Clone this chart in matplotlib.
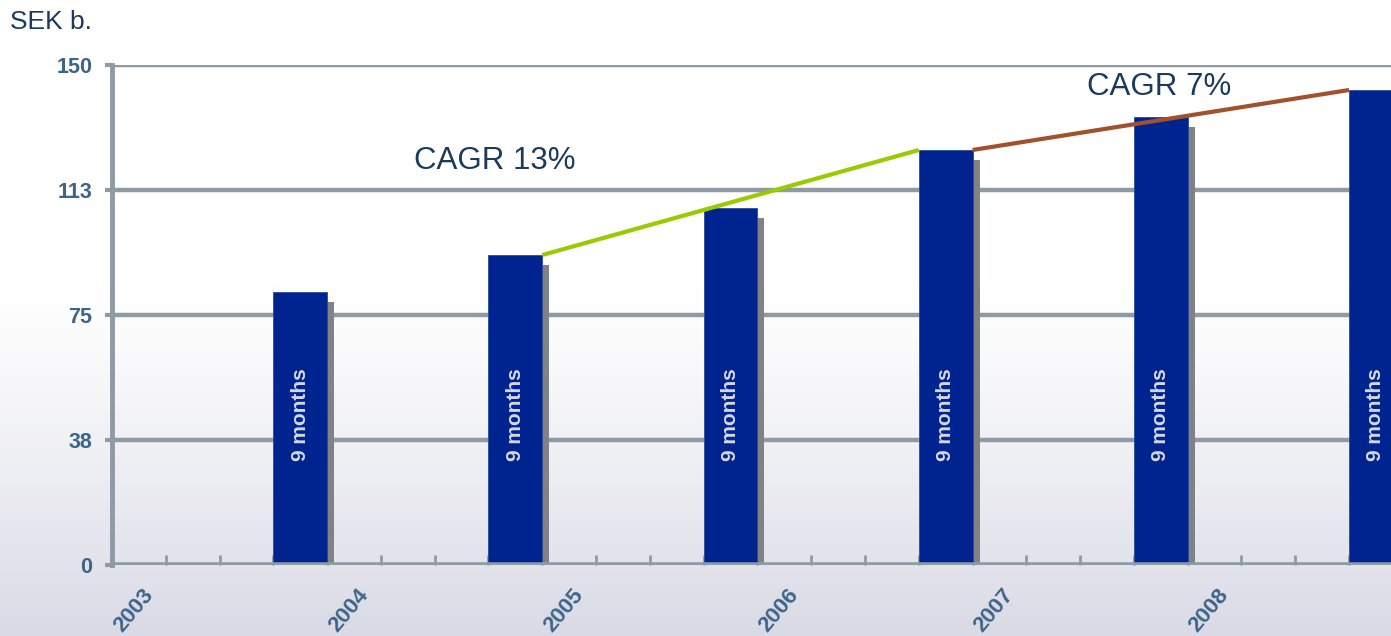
import numpy as np
import matplotlib
matplotlib.use('Agg')
import matplotlib.pyplot as plt
from matplotlib.patches import Rectangle

# quarterly category axis, bars only on the 9-month slots
years = ['2003', '2004', '2005', '2006', '2007', '2008']
year_slots = [0, 4, 8, 12, 16, 20]
bar_slots = [3, 7, 11, 15, 19, 23]
bar_values = [82, 93, 107, 124.5, 134.5, 142.5]
bar_text = '9 months'
y_ticks = [0, 37.5, 75, 112.5, 150]
y_tick_labels = ['0', '38', '75', '113', '150']
cagr_labels = ['CAGR 13%', 'CAGR 7%']
cagr_spans = [(1, 3), (3, 5)]  # bar index from / to

BAR = '#00248f'
GRID = '#8e9ba4'
TICK_TXT = '#3d6589'
NAVY_TXT = '#1b3a5c'

W, H = 1391, 636
fig = plt.figure(figsize=(W / 100, H / 100), dpi=100)

# soft white -> lavender background over the whole figure
bg = fig.add_axes([0, 0, 1, 1], zorder=-10)
rows = np.linspace(0, 1, H)
t = np.clip((rows - 0.45) / 0.55, 0, 1) ** 1.2
top = np.array([1.0, 1.0, 1.0])
bottom = np.array([0xd9, 0xda, 0xe5]) / 255
grad = top[None, :] * (1 - t[:, None]) + bottom[None, :] * t[:, None]
bg.imshow(grad[:, None, :], aspect='auto', extent=[0, 1, 0, 1], origin='upper')
bg.axis('off')

ax = fig.add_axes([112 / W, 71 / H, (W - 112) / W, 500 / H])
ax.set_facecolor('none')
ax.set_xlim(-0.5, 23.28)
ax.set_ylim(0, 150)

# gridlines
for y in y_ticks[1:]:
    ax.axhline(y, color=GRID, lw=3.2, zorder=1)
ax.axhline(0, color=GRID, lw=4, zorder=4)

# bars with a grey drop shadow on the right
for s, v in zip(bar_slots, bar_values):
    ax.add_patch(Rectangle((s + 0.5 - 0.02, 0), 0.15, v - 3, color='#808285', zorder=2, lw=0))
    ax.bar(s, v, width=1.0, color=BAR, edgecolor='#2a4a9a', lw=0.6, zorder=3)
    ax.text(s, 45, bar_text, rotation=90, ha='center', va='center', color='#d4d8e4',
            fontsize=15, fontweight='bold', family='Liberation Sans', zorder=5)

# CAGR trend lines between bar tops
line_colors = ['#99cc00', '#a0522d']
for (i, j), c in zip(cagr_spans, line_colors):
    ax.plot([bar_slots[i] + 0.5, bar_slots[j] - 0.5], [bar_values[i], bar_values[j]],
            color=c, lw=3, zorder=6, solid_capstyle='butt')

ax.text(6.61, 121.2, cagr_labels[0], ha='center', va='center', fontsize=22.5,
        color=NAVY_TXT, family='Liberation Sans')
ax.text(18.96, 143.4, cagr_labels[1], ha='center', va='center', fontsize=22.5,
        color=NAVY_TXT, family='Liberation Sans')

# axes styling
for side in ['top', 'right', 'bottom']:
    ax.spines[side].set_visible(False)
ax.spines['left'].set_color(GRID)
ax.spines['left'].set_linewidth(3.5)
ax.spines['left'].set_zorder(4)

ax.set_yticks(y_ticks)
ax.set_yticklabels(y_tick_labels, fontsize=15.5, fontweight='bold', color=TICK_TXT,
                   family='Liberation Sans')
ax.tick_params(axis='y', direction='out', length=5, width=3, color=GRID, pad=9)

ax.set_xticks(np.arange(-0.5, 23.5, 1.0))
ax.set_xticklabels([])
ax.tick_params(axis='x', direction='in', length=7, width=2, color=GRID)

for s, yr in zip(year_slots, years):
    ax.text(s + 0.2, -8.0, yr, rotation=50, ha='right', va='center', rotation_mode='anchor',
            fontsize=16, fontweight='bold', color=TICK_TXT, family='Liberation Sans',
            clip_on=False)

fig.text(10 / W, 1 - 22 / H, 'SEK b.', ha='left', va='center', fontsize=19,
         color=NAVY_TXT, family='Liberation Sans')

fig.savefig('out.png', dpi=100)
